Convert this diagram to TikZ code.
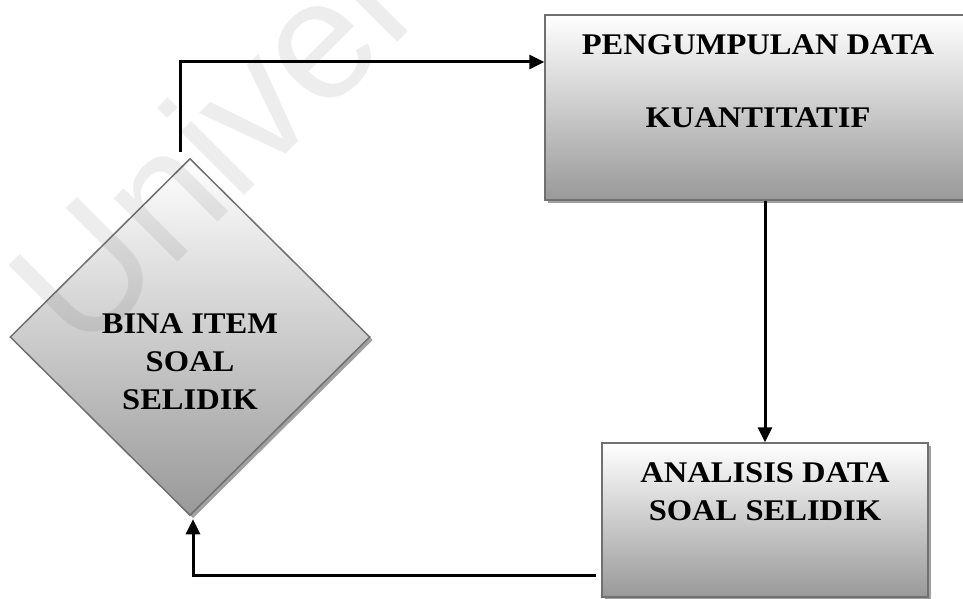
\documentclass[tikz,border=0pt]{standalone}
\usepackage{fontspec}
\setmainfont[FakeStretch=1.085]{Liberation Serif}
\newfontfamily\wmfont{Liberation Sans}
\usetikzlibrary{positioning, shapes.geometric, shadows, arrows.meta}

\begin{document}
\begin{tikzpicture}[x=1pt, y=-1pt,
    stepbox/.style={draw=black!56, line width=1.5pt, top color=white, bottom color=black!40,
        drop shadow={shadow xshift=3pt, shadow yshift=-3pt, fill=black!37, opacity=1}},
    decision/.style={stepbox, diamond, aspect=1, inner sep=0pt},
    boxtext/.style={inner sep=0pt, align=center, font=\bfseries\fontsize{30}{38}\selectfont},
    flow/.style={line width=3pt, -{Triangle[length=15pt, width=14pt]}},
    wmark/.style={anchor=base west, rotate=45, text=black, text opacity=0.07,
        font=\wmfont\fontsize{170}{170}\selectfont}]
    \useasboundingbox (0,0) rectangle (963,599);

    % Define the steps
    \node[decision, minimum width=360pt, minimum height=357pt] (bina) at (190,337) {};
    \node[stepbox, minimum width=426pt, minimum height=185pt] (kumpul) at (758,107.5) {};
    \node[stepbox, minimum width=326pt, minimum height=154pt] (analisis) at (765,520) {};

    % Texts of the steps
    \node[boxtext, anchor=north] (binatext) at ([yshift=24pt]bina.center) {BINA ITEM\\SOAL\\SELIDIK};
    \node[boxtext, below=20pt of kumpul.north] (kumpultext) {PENGUMPULAN DATA\\[35pt]KUANTITATIF};
    \node[boxtext, below=20pt of analisis.north] (analisistext) {ANALISIS DATA\\SOAL SELIDIK};

    % Draw the flow between the steps
    \draw[flow] ([shift={(-10pt,6pt)}]bina.north) |- ([yshift=45.5pt]kumpul.west);
    \draw[flow] (analisis.north |- kumpul.south) -- (analisis.north);
    \draw[flow] ([shift={(-5pt,-55pt)}]analisis.west) -| ([shift={(3pt,-3pt)}]bina.south);

    % Watermark
    \node[wmark] (wm) at (80,360) {Universiti Malaya};
\end{tikzpicture}
\end{document}
